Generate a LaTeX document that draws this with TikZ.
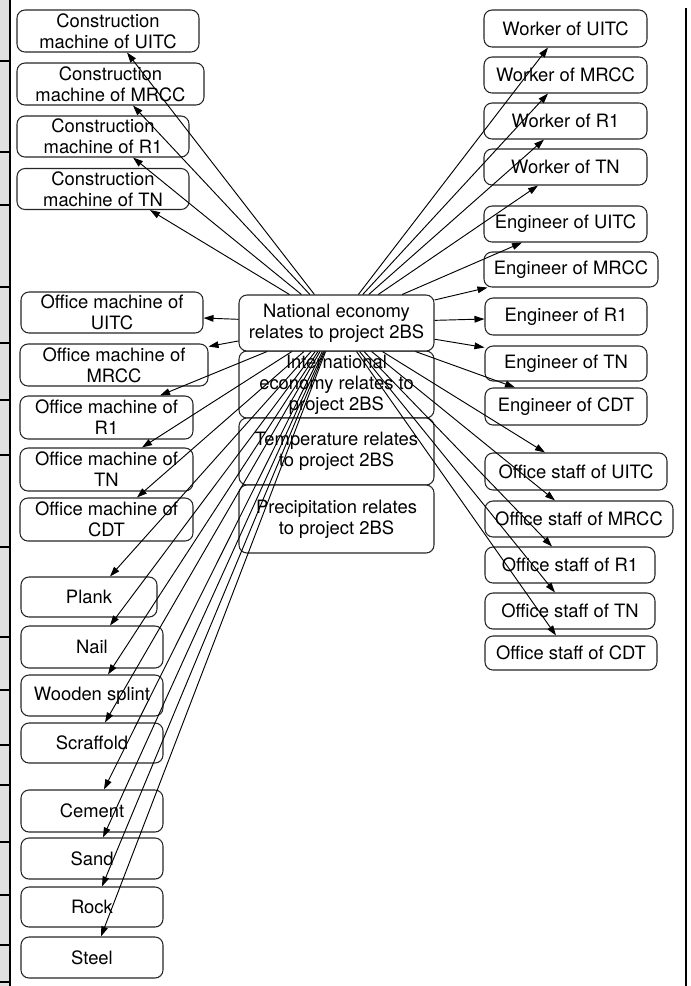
\documentclass[tikz,border=0pt]{standalone}
\usepackage{fontspec}
\setmainfont{TeX Gyre Heros}
\usetikzlibrary{calc,arrows.meta}
\begin{document}
\begin{tikzpicture}[x=0.75pt,y=-0.75pt,
  bx/.style 2 args={draw=black!85, line width=0.8pt, rounded corners=6pt, fill=white,
    minimum width=#1*0.75pt, minimum height=#2*0.75pt, inner sep=0pt, align=center,
    font=\fontsize{13.8pt}{15.8pt}\selectfont},
  arr/.style={-{Triangle[length=7.5pt,width=5pt]}, line width=0.7pt}]
\useasboundingbox (0,0) rectangle (690,986);
% frame strips
\fill[black!12] (0,0) rectangle (9,986);
\draw[line width=1.5pt] (10,0) -- (10,986);
\foreach \y in {61,152,205,287,343,400,455,547,637,690,745,785,842,895,945,982}
  \draw[line width=1pt] (0,\y) -- (10,\y);
\draw[line width=1.5pt] (686,8) -- (686,986);

% left column
\node[bx={182}{42}] (cu) at (108,31) {Construction\\machine of UITC};
\node[bx={187}{42}] (cm) at (110.5,84) {Construction\\machine of MRCC};
\node[bx={172}{41}] (cr) at (103,136.5) {Construction\\machine of R1};
\node[bx={172}{41}] (ct) at (103,189) {Construction\\machine of TN};

\node[bx={182}{41}] (ou) at (112,312.5) {Office machine of\\UITC};
\node[bx={188}{42}] (om) at (114,365) {Office machine of\\MRCC};
\node[bx={173}{43}] (or) at (106.5,417.5) {Office machine of\\R1};
\node[bx={173}{43}] (ot) at (106.5,469.5) {Office machine of\\TN};
\node[bx={173}{43}] (oc) at (106.5,519.5) {Office machine of\\CDT};

\node[bx={136}{40}] (pl) at (89,597) {Plank};
\node[bx={142}{42}] (na) at (92,647) {Nail};
\node[bx={142}{41}] (ws) at (92,695.5) {Wooden splint};
\node[bx={142}{40}] (sf) at (92,743) {Scraffold};
\node[bx={142}{42}] (ce) at (92,811) {Cement};
\node[bx={142}{41}] (sa) at (92,858.5) {Sand};
\node[bx={142}{40}] (ro) at (92,907) {Rock};
\node[bx={142}{41}] (stl) at (92,957.5) {Steel};

% centre column
\node[bx={195}{67}] (int) at (336.5,384.5) {International\\economy relates to\\project 2BS};
\node[bx={195}{67}] (tmp) at (336.5,451.5) {Temperature relates\\to project 2BS};
\node[bx={195}{68}] (pre) at (336.5,519) {Precipitation relates\\to project 2BS};
\node[bx={195}{56}] (nat) at (336.5,323) {National economy\\relates to project 2BS};

% right column
\node[bx={163}{37}] (wu) at (565.5,28.5) {Worker of UITC};
\node[bx={163}{36}] (wm) at (565.5,75) {Worker of MRCC};
\node[bx={163}{36}] (wr) at (565.5,121) {Worker of R1};
\node[bx={163}{36}] (wt) at (565.5,167) {Worker of TN};
\node[bx={163}{36}] (eu) at (565.5,224) {Engineer of UITC};
\node[bx={174}{35}] (em) at (571,269.5) {Engineer of MRCC};
\node[bx={162}{37}] (er) at (566,316.5) {Engineer of R1};
\node[bx={162}{35}] (et) at (566,363.5) {Engineer of TN};
\node[bx={162}{37}] (ec) at (566,406.5) {Engineer of CDT};
\node[bx={182}{37}] (su) at (576,471.5) {Office staff of UITC};
\node[bx={188}{36}] (sm) at (579,519) {Office staff of MRCC};
\node[bx={170}{36}] (sr) at (570,565) {Office staff of R1};
\node[bx={170}{36}] (st) at (570,611) {Office staff of TN};
\node[bx={172}{34}] (sc) at (571,653) {Office staff of CDT};

% arrows to the left
\draw[arr] (nat) -- ($(cu.south)+(19,0)$);
\draw[arr] (nat) -- ($(cm.south)+(22.5,0)$);
\draw[arr] (nat) -- ($(cr.south)+(30,0)$);
\draw[arr] (nat) -- ($(ct.south)+(47,0)$);
\draw[arr] (nat) -- ($(ou.east)+(0,5.5)$);
\draw[arr] (nat) -- ($(om.north east)+(0,3)$);
\draw[arr] (nat) -- ($(or.north)+(53.5,0)$);
\draw[arr] (nat) -- ($(ot.north)+(35.5,0)$);
\draw[arr] (nat) -- ($(oc.north)+(30.5,0)$);
\draw[arr] (nat) -- ($(pl.north)+(21,0)$);
\draw[arr] (nat) -- ($(na.north)+(18,0)$);
\draw[arr] (nat) -- ($(ws.north)+(16,0)$);
\draw[arr] (nat) -- ($(sf.north)+(13,0)$);
\draw[arr] (nat) -- ($(ce.north)+(12,0)$);
\draw[arr] (nat) -- ($(sa.north)+(11,0)$);
\draw[arr] (nat) -- ($(ro.north)+(10,0)$);
\draw[arr] (nat) -- ($(stl.north)+(9,0)$);

% arrows to the right
\draw[arr] (nat) -- ($(wu.south)+(-17.5,0)$);
\draw[arr] (nat) -- ($(wm.south)+(-17.5,0)$);
\draw[arr] (nat) -- ($(wr.south)+(-21.5,0)$);
\draw[arr] (nat) -- ($(wt.south)+(-27.5,0)$);
\draw[arr] (nat) -- ($(eu.south)+(-43.5,0)$);
\draw[arr] (nat) -- ($(em.south west)+(4,0)$);
\draw[arr] (nat) -- ($(er.west)+(0,2.5)$);
\draw[arr] (nat) -- ($(et.north west)+(0,2)$);
\draw[arr] (nat) -- ($(ec.north)+(-51,0)$);
\draw[arr] (nat) -- ($(su.north)+(-31,0)$);
\draw[arr] (nat) -- ($(sm.north)+(-24,0)$);
\draw[arr] (nat) -- ($(sr.north)+(-18,0)$);
\draw[arr] (nat) -- ($(st.north)+(-15,0)$);
\draw[arr] (nat) -- ($(sc.north)+(-15,0)$);
\end{tikzpicture}
\end{document}
